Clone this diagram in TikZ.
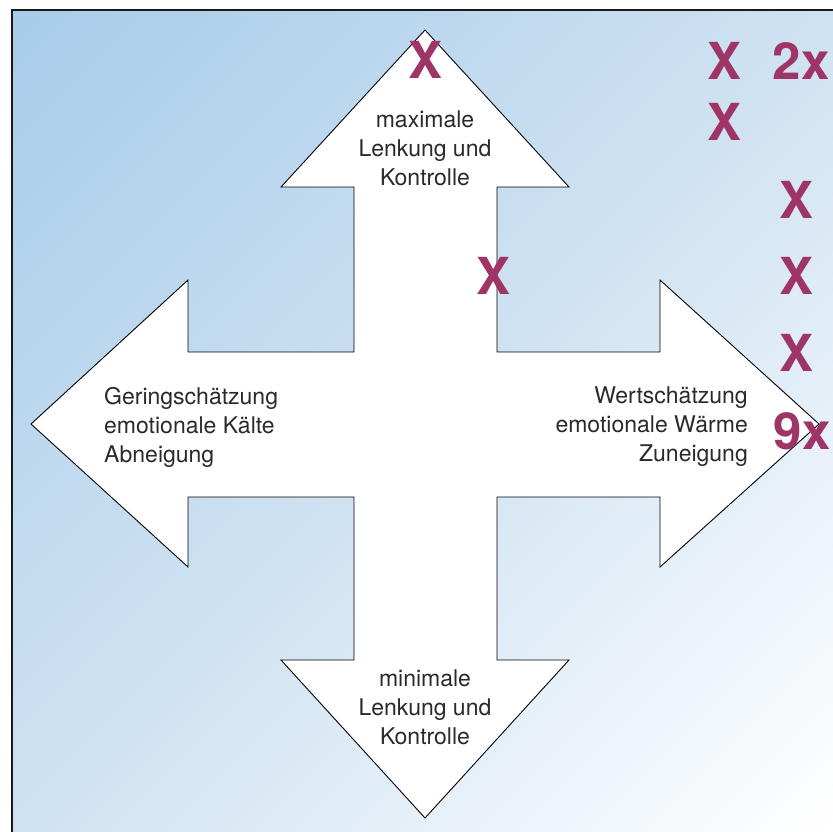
\documentclass[tikz,border=0pt]{standalone}
\usepackage{fontspec}
\setmainfont{TeX Gyre Heros}
\definecolor{bgA}{HTML}{A8CCE9}
\definecolor{bgM}{HTML}{CFE2F2}
\definecolor{bgB}{HTML}{FFFFFF}
\definecolor{markc}{HTML}{9E3566}
\definecolor{txt}{HTML}{2A2A2A}
\pgfdeclareverticalshading{bgshade}{100bp}{color(0bp)=(bgB); color(14.6bp)=(bgB); color(50bp)=(bgM); color(85.4bp)=(bgA); color(100bp)=(bgA)}
\tikzset{
  lbl/.style={inner sep=0pt, text=txt, font=\fontsize{23}{29}\selectfont},
  mk/.style={inner sep=0pt, text=markc, font=\fontsize{51}{51}\selectfont\bfseries},
  arrowshape/.style={draw=black, line width=0.9pt, fill=white, line join=miter}
}
\begin{document}
\begin{tikzpicture}[x=1pt,y=-1pt]
\useasboundingbox (0,0) rectangle (833,832);
\shade[shading=bgshade, shading angle=45] (12,10) rectangle (833,832);
\begin{scope}
\clip (0,0) rectangle (833,832);
\draw[line width=2pt, black!90] (12,845) -- (12,10) -- (845,10);
\end{scope}
% cross arrow
\draw[arrowshape] (425,30) -- (569,187) -- (497,187) -- (497,352) -- (660,352) -- (660,280)
  -- (819,424) -- (660,567) -- (660,497) -- (497,497) -- (497,660) -- (569,660)
  -- (425,818) -- (281,660) -- (354,660) -- (354,497) -- (188,497) -- (188,567)
  -- (31,424) -- (188,280) -- (188,352) -- (354,352) -- (354,187) -- (281,187) -- cycle;
% labels
\node[lbl, align=center] (top) at (425,148) {maximale\\Lenkung und\\Kontrolle};
\node[lbl, align=center] (bot) at (425,707) {minimale\\Lenkung und\\Kontrolle};
\node[lbl, align=left, anchor=west] (lft) at (104,427) {Geringschätzung\\emotionale Kälte\\Abneigung};
\node[lbl, align=right, anchor=east] (rgt) at (748,427) {Wertschätzung\\emotionale Wärme\\Zuneigung};
% marks
\node[mk] (m1) at (426,60) {X};
\node[mk] (m2) at (725,61) {X};
\node[mk] (m3) at (801,61) {2x};
\node[mk] (m4) at (725,122) {X};
\node[mk] (m5) at (797,200) {X};
\node[mk] (m6) at (797,276) {X};
\node[mk] (m7) at (797,353) {X};
\node[mk] (m8) at (802,431) {9x};
\node[mk] (m9) at (494,276) {X};
\end{tikzpicture}
\end{document}
